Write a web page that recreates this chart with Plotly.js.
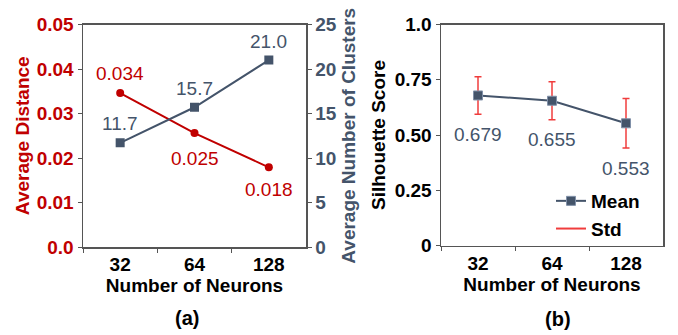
<!DOCTYPE html>
<html><head><meta charset="utf-8">
<script src="https://cdn.plot.ly/plotly-3.0.1.min.js"></script>
<style>html,body{margin:0;padding:0;background:#fff}</style>
</head><body><div id="chart" style="width:678px;height:335px"></div>
<script>
const neurons = ['32', '64', '128'];
const avgDistance = [0.0346, 0.0256, 0.0179];
const avgDistanceLabels = ['0.034', '0.025', '0.018'];
const avgClusters = [11.7, 15.7, 21.0];
const avgClustersLabels = ['11.7', '15.7', '21.0'];
const silMean = [0.679, 0.655, 0.553];
const silStd = [0.085, 0.086, 0.112];
const silLabels = ['0.679', '0.655', '0.553'];
const distTicks = [0, 0.01, 0.02, 0.03, 0.04, 0.05];
const distTickText = ['0.0', '0.01', '0.02', '0.03', '0.04', '0.05'];
const clusterTicks = [0, 5, 10, 15, 20, 25];
const silTicks = [0, 0.25, 0.5, 0.75, 1.0];
const silTickText = ['0', '0.25', '0.50', '0.75', '1.0'];

const RED = '#C00000';
const SLATE = '#44546A';
const ERR = '#F03C3C';
const AX = '#555555';
const FONT = 'Liberation Sans, Arial, sans-serif';

const traces = [
  {x: neurons, y: avgDistance, xaxis: 'x', yaxis: 'y', mode: 'lines+markers', showlegend: false,
   line: {color: RED, width: 2}, marker: {symbol: 'circle', size: 8, color: RED}},
  {x: neurons, y: avgClusters, xaxis: 'x', yaxis: 'y2', mode: 'lines+markers', showlegend: false,
   line: {color: SLATE, width: 2}, marker: {symbol: 'square', size: 9, color: SLATE}},
  {x: neurons, y: silMean, xaxis: 'x2', yaxis: 'y3', mode: 'lines+markers', name: 'Mean',
   line: {color: SLATE, width: 2}, marker: {symbol: 'square', size: 9, color: SLATE, line: {color: '#8090a8', width: 1}},
   error_y: {type: 'data', array: silStd, visible: true, color: ERR, thickness: 1.5, width: 3.5}},
  {x: [null], y: [null], xaxis: 'x2', yaxis: 'y3', mode: 'lines', name: 'Std',
   line: {color: ERR, width: 2}}
];

const ann = [];
neurons.forEach((n, i) => {
  ann.push({x: i, y: avgDistance[i], xref: 'x', yref: 'y', text: avgDistanceLabels[i], showarrow: false,
    xanchor: 'center', yanchor: 'middle', yshift: i === 0 ? 20 : (i === 1 ? -25 : -22), font: {family: FONT, size: 19, color: RED}});
  ann.push({x: i, y: avgClusters[i], xref: 'x', yref: 'y2', text: avgClustersLabels[i], showarrow: false,
    xanchor: 'center', yanchor: 'middle', yshift: 19, font: {family: FONT, size: 19, color: SLATE}});
  ann.push({x: i, y: silMean[i] - silStd[i], xref: 'x2', yref: 'y3', text: silLabels[i], showarrow: false,
    xanchor: 'center', yanchor: 'middle', yshift: -20, font: {family: FONT, size: 19, color: SLATE}});
});
ann.push({x: 187/678, y: 1 - 318/335, xref: 'paper', yref: 'paper', text: '(a)', showarrow: false,
  xanchor: 'center', yanchor: 'middle', font: {family: FONT, size: 20, color: '#000', weight: 'bold'}});
ann.push({x: 558/678, y: 1 - 319/335, xref: 'paper', yref: 'paper', text: '(b)', showarrow: false,
  xanchor: 'center', yanchor: 'middle', font: {family: FONT, size: 20, color: '#000', weight: 'bold'}});

const tickFontX = {family: FONT, size: 19, color: '#000', weight: 'bold'};
const titleFont = {family: FONT, size: 19, color: '#000', weight: 'bold'};

const xBase = {
  type: 'category', range: [-0.5, 2.5], tickson: 'boundaries', ticks: 'outside', ticklen: 4,
  tickcolor: AX, showline: true, linecolor: AX, linewidth: 1.5, mirror: true, showgrid: false,
  tickfont: tickFontX, automargin: false, fixedrange: true
};

const layout = {
  width: 678, height: 335,
  margin: {l: 0, r: 0, t: 0, b: 0},
  paper_bgcolor: '#fff', plot_bgcolor: '#fff',
  font: {family: FONT},
  showlegend: true,
  legend: {x: 551/678, y: 1 - 182/335, xanchor: 'left', yanchor: 'top', bgcolor: 'rgba(0,0,0,0)',
    font: {family: FONT, size: 19, color: '#000', weight: 'bold'}, tracegroupgap: 0},
  xaxis: Object.assign({}, xBase, {domain: [83/678, 306/678], anchor: 'y',
    title: {text: 'Number of Neurons', font: titleFont, standoff: 0}}),
  xaxis2: Object.assign({}, xBase, {domain: [441/678, 663/678], anchor: 'y3',
    title: {text: 'Number of Neurons', font: titleFont, standoff: 0}}),
  yaxis: {domain: [1 - 247/335, 1 - 24.5/335], anchor: 'x', range: [0, 0.05], tickvals: distTicks, ticktext: distTickText,
    ticks: 'outside', ticklen: 4, tickcolor: AX, showline: true, linecolor: AX, linewidth: 1.5, showgrid: false, zeroline: false,
    tickfont: {family: FONT, size: 19, color: RED, weight: 'bold'}, automargin: false,
    title: {text: 'Average Distance', font: {family: FONT, size: 19, color: RED, weight: 'bold'}, standoff: 2}},
  yaxis2: {domain: [1 - 247/335, 1 - 24.5/335], anchor: 'x', overlaying: 'y', side: 'right', range: [0, 25], tickvals: clusterTicks,
    ticks: 'outside', ticklen: 4, tickcolor: AX, showline: true, linecolor: AX, linewidth: 1.5, showgrid: false, zeroline: false,
    tickfont: {family: FONT, size: 19, color: SLATE, weight: 'bold'}, automargin: false,
    title: {text: 'Average Number of Clusters', font: {family: FONT, size: 19, color: SLATE, weight: 'bold'}, standoff: 6}},
  yaxis3: {domain: [1 - 245.5/335, 1 - 24.5/335], anchor: 'x2', range: [0, 1], tickvals: silTicks, ticktext: silTickText,
    ticks: 'outside', ticklen: 4, tickcolor: AX, showline: true, linecolor: AX, linewidth: 1.5, mirror: true, showgrid: false, zeroline: false,
    tickfont: {family: FONT, size: 19, color: '#000', weight: 'bold'}, automargin: false,
    title: {text: 'Silhouette Score', font: titleFont, standoff: 4}},
  annotations: ann
};

Plotly.newPlot('chart', traces, layout, {displayModeBar: false, staticPlot: true});
</script></body></html>
